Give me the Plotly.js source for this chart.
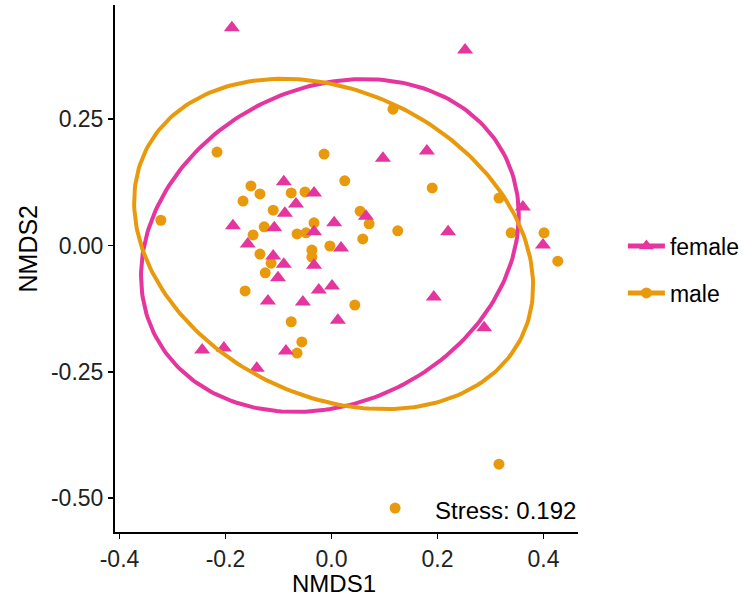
<!DOCTYPE html>
<html>
<head>
<meta charset="utf-8">
<script src="https://cdn.plot.ly/plotly-3.0.1.min.js"></script>
<style>
  html, body { margin: 0; padding: 0; background: #ffffff; }
  #chart { width: 743px; height: 603px; }
</style>
</head>
<body>
<div id="chart"></div>
<script>
// NMDS site scores, split by sex
var femaleX = [-0.188, 0.252, 0.097, 0.180, -0.090, -0.033, -0.067, -0.088, -0.186, -0.108,
               -0.033, 0.005, 0.065, -0.158, 0.018, -0.110, -0.090, -0.033, -0.101, -0.024,
               0.001, -0.120, -0.054, 0.012, -0.244, -0.203, -0.086, -0.141, 0.193, 0.288,
               0.361, 0.220, 0.399];
var femaleY = [0.431, 0.387, 0.173, 0.187, 0.126, 0.104, 0.082, 0.064, 0.039, 0.035,
               0.027, 0.045, 0.058, 0.003, -0.005, -0.021, -0.037, -0.039, -0.064, -0.088,
               -0.080, -0.110, -0.112, -0.148, -0.207, -0.203, -0.209, -0.243, -0.102, -0.163,
               0.076, 0.027, 0.001];

var maleX = [-0.216, 0.116, -0.014, 0.025, -0.152, -0.135, -0.076, -0.050, -0.167, -0.110,
             -0.322, -0.033, -0.127, -0.148, -0.065, -0.048, -0.003, -0.037, -0.037, -0.135,
             -0.114, -0.125, -0.163, 0.044, -0.076, -0.056, -0.065, 0.054, 0.071, 0.059,
             0.190, 0.316, 0.125, 0.339, 0.401, 0.427, 0.316, 0.120];
var maleY = [0.185, 0.270, 0.181, 0.128, 0.118, 0.102, 0.104, 0.106, 0.088, 0.070,
             0.050, 0.045, 0.037, 0.021, 0.023, 0.025, -0.001, -0.009, -0.023, -0.017,
             -0.035, -0.054, -0.090, -0.118, -0.151, -0.191, -0.213, 0.068, 0.043, 0.013,
             0.114, 0.094, 0.029, 0.025, 0.025, -0.031, -0.433, -0.520];

// 95% ellipses: centre and two conjugate semi-axis vectors (NMDS units)
var femaleEllipseCenter = [-0.003, 0.000];
var femaleEllipseU = [0.329, 0.180];
var femaleEllipseV = [-0.137, 0.276];
var maleEllipseCenter = [0.004, 0.003];
var maleEllipseU = [0.354, -0.186];
var maleEllipseV = [0.128, 0.269];

var groupNames = ['female', 'male'];
var stressLabel = 'Stress: 0.192';
var xTitle = 'NMDS1';
var yTitle = 'NMDS2';

var xTickVals = [-0.4, -0.2, 0.0, 0.2, 0.4];
var xTickText = ['-0.4', '-0.2', '0.0', '0.2', '0.4'];
var yTickVals = [0.25, 0.00, -0.25, -0.50];
var yTickText = ['0.25', '0.00', '-0.25', '-0.50'];

var PINK = '#E5359E';
var ORANGE = '#E99A0C';
var FONT = 'Liberation Sans, Arial, Helvetica, sans-serif';

function ellipsePath(c, u, v) {
  var xs = [], ys = [];
  var n = 240;
  for (var i = 0; i <= n; i++) {
    var t = 2 * Math.PI * i / n;
    xs.push(c[0] + u[0] * Math.cos(t) + v[0] * Math.sin(t));
    ys.push(c[1] + u[1] * Math.cos(t) + v[1] * Math.sin(t));
  }
  return { x: xs, y: ys };
}

var fe = ellipsePath(femaleEllipseCenter, femaleEllipseU, femaleEllipseV);
var me = ellipsePath(maleEllipseCenter, maleEllipseU, maleEllipseV);

var traces = [
  {
    x: maleX, y: maleY, type: 'scatter', mode: 'markers', showlegend: false,
    marker: { symbol: 'circle', size: 11, color: ORANGE, line: { width: 0 } },
    hoverinfo: 'x+y'
  },
  {
    x: femaleX, y: femaleY, type: 'scatter', mode: 'markers', showlegend: false,
    marker: { symbol: 'triangle-up', size: 14, color: PINK, line: { width: 0 } },
    hoverinfo: 'x+y'
  },
  {
    x: fe.x, y: fe.y, type: 'scatter', mode: 'lines', showlegend: false,
    line: { color: PINK, width: 4 }, hoverinfo: 'skip'
  },
  {
    x: me.x, y: me.y, type: 'scatter', mode: 'lines', showlegend: false,
    line: { color: ORANGE, width: 4 }, hoverinfo: 'skip'
  },
  // legend keys (line + symbol) for each group
  {
    x: [null], y: [null], type: 'scatter', mode: 'lines+markers',
    name: groupNames[0], legendgroup: 'f',
    line: { color: PINK, width: 5 },
    marker: { symbol: 'triangle-up', size: 13, color: PINK }
  },
  {
    x: [null], y: [null], type: 'scatter', mode: 'lines+markers',
    name: groupNames[1], legendgroup: 'm',
    line: { color: ORANGE, width: 5 },
    marker: { symbol: 'circle', size: 11, color: ORANGE }
  }
];

var axisCommon = {
  showgrid: false, zeroline: false,
  showline: true, linecolor: '#000000', linewidth: 2,
  ticks: 'outside', ticklen: 5, tickwidth: 1.5, tickcolor: '#000000',
  tickfont: { family: FONT, size: 23, color: '#222222' },
  tickmode: 'array', fixedrange: true, automargin: false
};

var layout = {
  width: 743, height: 603,
  margin: { l: 115, r: 165, t: 5, b: 71, pad: 0, autoexpand: false },
  paper_bgcolor: '#ffffff', plot_bgcolor: '#ffffff',
  font: { family: FONT, color: '#000000' },
  xaxis: Object.assign({}, axisCommon, {
    range: [-0.4085, 0.4651],
    tickvals: xTickVals, ticktext: xTickText
  }),
  yaxis: Object.assign({}, axisCommon, {
    range: [-0.5673, 0.4762],
    tickvals: yTickVals, ticktext: yTickText
  }),
  legend: {
    x: 1.097, xanchor: 'left', y: 0.498, yanchor: 'middle',
    font: { family: FONT, size: 23, color: '#000000' },
    itemwidth: 37, tracegroupgap: 14, bgcolor: 'rgba(0,0,0,0)'
  },
  annotations: [
    {
      xref: 'x', yref: 'y', x: 0.4651, y: -0.524,
      xanchor: 'right', yanchor: 'middle', showarrow: false,
      text: stressLabel, font: { family: FONT, size: 24, color: '#000000' }
    },
    {
      // x-axis title
      xref: 'x', yref: 'paper', x: 0.005, y: -0.097,
      xanchor: 'center', yanchor: 'middle', showarrow: false, borderpad: 0,
      text: xTitle, font: { family: FONT, size: 24, color: '#000000' }
    },
    {
      // y-axis title
      xref: 'paper', yref: 'y', x: -0.188, y: -0.006,
      xanchor: 'center', yanchor: 'middle', showarrow: false, textangle: -90,
      text: yTitle, font: { family: FONT, size: 25, color: '#000000' }
    }
  ],
  showlegend: true
};

Plotly.newPlot('chart', traces, layout, { displayModeBar: false, staticPlot: true });
</script>
</body>
</html>
